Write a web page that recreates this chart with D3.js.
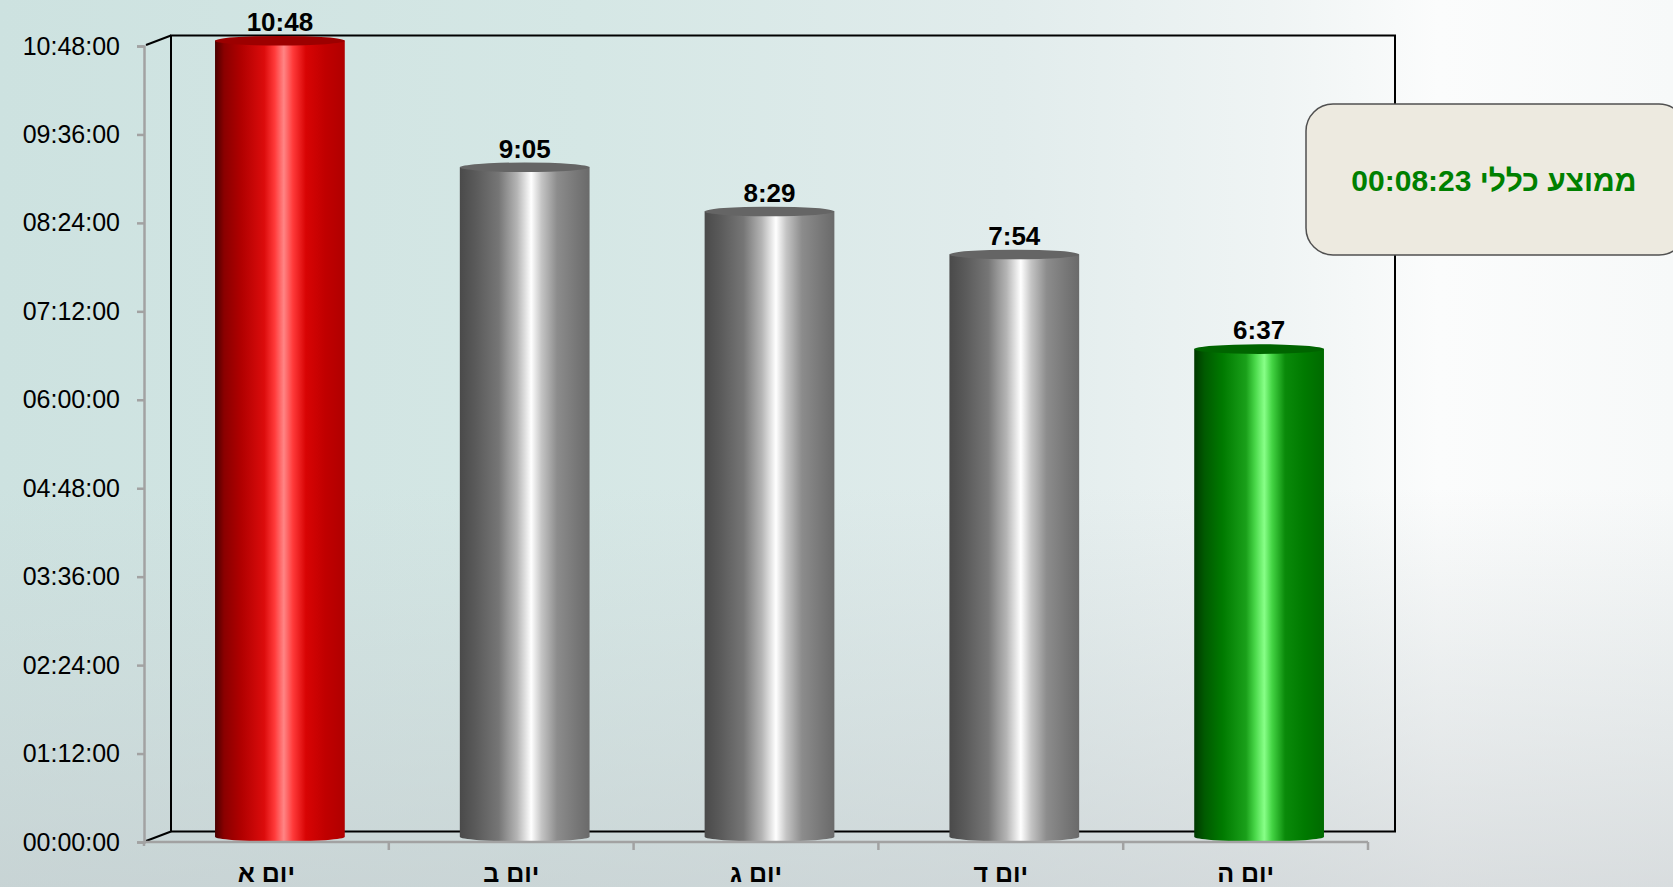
<!DOCTYPE html>
<html>
<head>
<meta charset="utf-8">
<script src="https://cdn.jsdelivr.net/npm/d3@7"></script>
<style>
  html, body { margin: 0; padding: 0; overflow: hidden; }
  svg { display: block; font-family: "Liberation Sans", Arial, sans-serif; }
</style>
</head>
<body>
<svg id="chart" width="1673" height="887"></svg>
<script>
// Daily durations per weekday (hours:minutes)
const categories = ["יום א", "יום ב", "יום ג", "יום ד", "יום ה"];
const durations = ["10:48", "9:05", "8:29", "7:54", "6:37"];
const yTickMinutes = [0, 72, 144, 216, 288, 360, 432, 504, 576, 648];
const averageTitle = "ממוצע כללי";
const averageValue = "00:08:23";

const toMinutes = s => { const [h, m] = s.split(":").map(Number); return h * 60 + m; };
const values = durations.map(toMinutes);
const fmtTick = m => String(Math.floor(m / 60)).padStart(2, "0") + ":" + String(m % 60).padStart(2, "0") + ":00";

const W = 1673, H = 887;
const svg = d3.select("#chart");
const defs = svg.append("defs");

// ---- background ----
const bgH = defs.append("linearGradient").attr("id", "bgH").attr("x1", 0).attr("x2", 1).attr("y1", 0).attr("y2", 0);
[[0, "#cde2e0"], [0.35, "#d5e7e5"], [0.6, "#e1ecec"], [0.76, "#eff4f4"], [0.86, "#fbfcfc"], [1, "#f7f9f9"]]
  .forEach(([o, c]) => bgH.append("stop").attr("offset", o).attr("stop-color", c));
const bgV = defs.append("linearGradient").attr("id", "bgV").attr("x1", 0).attr("x2", 0).attr("y1", 0).attr("y2", 1);
[[0, "#c8d0d2", 0], [0.55, "#c8d0d2", 0], [0.75, "#c8d0d2", 0.3], [1, "#c4cacd", 0.6]]
  .forEach(([o, c, a]) => bgV.append("stop").attr("offset", o).attr("stop-color", c).attr("stop-opacity", a));
svg.append("rect").attr("width", W).attr("height", H).attr("fill", "url(#bgH)");
svg.append("rect").attr("width", W).attr("height", H).attr("fill", "url(#bgV)");

// ---- scales ----
const depthX = 27, depthY = -10.5;
const y = d3.scaleLinear().domain([0, 648]).range([842, 46]);
const x = d3.scaleBand().domain(categories).range([144, 1368]).padding(0);
const barW = x.bandwidth() * 0.53;
const ry = 4.8;

// ---- back wall ----
const wall = svg.append("g").attr("fill", "none").attr("stroke", "#000").attr("stroke-width", 2);
const x0 = x.range()[0] + depthX, x1 = x.range()[1] + depthX;
const yb = y(0) + depthY, yt = y(648) + depthY;
wall.append("path").attr("d", `M${x0},${yb}V${yt}H${x1}V${yb}H${x0}`);
wall.append("line").attr("x1", x.range()[0] + 2).attr("y1", y(0) - 1).attr("x2", x0).attr("y2", yb);
wall.append("line").attr("x1", x.range()[0] + 2).attr("y1", y(648) - 1).attr("x2", x0).attr("y2", yt);

// ---- bar gradients ----
function cylGradient(id, stops) {
  const g = defs.append("linearGradient").attr("id", id).attr("x1", 0).attr("x2", 1).attr("y1", 0).attr("y2", 0);
  stops.forEach(([o, c]) => g.append("stop").attr("offset", o).attr("stop-color", c));
}
cylGradient("cylRed", [[0, "#4a0000"], [0.07, "#8a0000"], [0.2, "#b00000"], [0.38, "#dc0c0c"], [0.46, "#ff3a3a"],
  [0.53, "#ff8585"], [0.6, "#ff3a3a"], [0.7, "#d80404"], [0.85, "#c00000"], [1, "#b00000"]]);
cylGradient("cylGray", [[0, "#4a4a4a"], [0.12, "#5a5a5a"], [0.3, "#767676"], [0.44, "#b4b4b4"], [0.55, "#ffffff"],
  [0.63, "#c4c4c4"], [0.75, "#8c8c8c"], [0.9, "#777777"], [1, "#6a6a6a"]]);
cylGradient("cylGreen", [[0, "#003800"], [0.08, "#005a00"], [0.22, "#007a00"], [0.4, "#1aa01a"], [0.47, "#4ad84a"],
  [0.54, "#88ff88"], [0.6, "#44d444"], [0.7, "#0a8a0a"], [0.85, "#007a00"], [1, "#006a00"]]);
const topFill = { cylRed: "#9c0000", cylGray: "#656565", cylGreen: "#006400" };

const vMax = d3.max(values), vMin = d3.min(values);
const tone = v => v === vMax ? "cylRed" : v === vMin ? "cylGreen" : "cylGray";

// ---- cylinders ----
const bars = svg.append("g").selectAll("g").data(categories.map((c, i) => ({ c, v: values[i], label: durations[i] })))
  .join("g");
bars.each(function (d) {
  const g = d3.select(this);
  const cx = x(d.c) + x.bandwidth() / 2 + depthX / 2;
  const top = y(d.v) + depthY / 2;
  const bot = y(0) + depthY / 2;
  const l = cx - barW / 2, r = cx + barW / 2;
  const t = tone(d.v);
  g.append("path")
    .attr("d", `M${l},${top}V${bot}A${barW / 2},${ry} 0 0 0 ${r},${bot}V${top}Z`)
    .attr("fill", `url(#${t})`);
  g.append("ellipse").attr("cx", cx).attr("cy", top).attr("rx", barW / 2).attr("ry", ry)
    .attr("fill", topFill[t]);
  g.append("text").attr("x", cx).attr("y", y(d.v) - 15)
    .attr("text-anchor", "middle").attr("font-size", 26).attr("font-weight", "bold").attr("fill", "#000")
    .text(d.label);
});

// ---- axes ----
const axisColor = "#a2a2a2";
const yAxis = svg.append("g").attr("transform", `translate(${x.range()[0]},0)`)
  .call(d3.axisLeft(y).tickValues(yTickMinutes).tickFormat(fmtTick).tickSize(7).tickPadding(17));
yAxis.select(".domain").attr("stroke", axisColor).attr("stroke-width", 2.5);
yAxis.selectAll(".tick line").attr("stroke", axisColor).attr("stroke-width", 2.5);
yAxis.selectAll(".tick text").attr("font-size", 25).attr("fill", "#000").attr("font-family", "Liberation Sans, Arial, sans-serif");

const xAxis = svg.append("g").attr("transform", `translate(0,${y(0)})`)
  .call(d3.axisBottom(x).tickSize(0).tickPadding(22));
xAxis.select(".domain").attr("stroke", axisColor).attr("stroke-width", 2.5).attr("d", `M${x.range()[0]},0H${x.range()[1]}`);
xAxis.selectAll(".tick text").attr("font-size", 25).attr("font-weight", "bold").attr("fill", "#000")
  .attr("font-family", "Liberation Sans, Arial, sans-serif");
// category boundary ticks
xAxis.append("g").selectAll("line").data(categories.map(c => x(c) + x.bandwidth()))
  .join("line").attr("x1", d => d).attr("x2", d => d).attr("y1", 0).attr("y2", 8)
  .attr("stroke", axisColor).attr("stroke-width", 2.5);
xAxis.append("line").attr("x1", x.range()[0]).attr("x2", x.range()[0]).attr("y1", 0).attr("y2", 4)
  .attr("stroke", axisColor).attr("stroke-width", 2.5);

// ---- overall average callout ----
const box = svg.append("g");
box.append("rect").attr("x", 1306).attr("y", 104).attr("width", 380).attr("height", 151).attr("rx", 27).attr("ry", 27)
  .attr("fill", "#edeae0").attr("stroke", "#505050").attr("stroke-width", 1.5);
box.append("text").attr("x", 1494).attr("y", 191).attr("direction", "rtl").attr("text-anchor", "middle")
  .attr("font-size", 30).attr("font-weight", "bold").attr("fill", "#008000")
  .text(averageTitle + " " + averageValue);
</script>
</body>
</html>
